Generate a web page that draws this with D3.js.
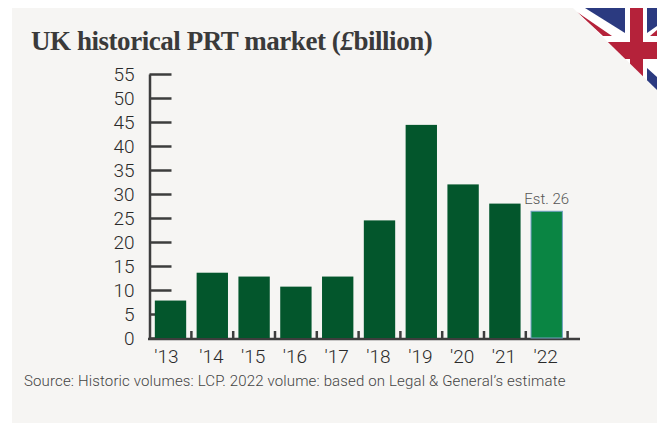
<!DOCTYPE html>
<html>
<head>
<meta charset="utf-8">
<script src="https://cdn.jsdelivr.net/npm/d3@7"></script>
<style>
  html, body { margin: 0; padding: 0; background: #fff; overflow: hidden; }
  text { font-family: Roboto, sans-serif; }
</style>
</head>
<body>
<script>
const WIDTH = 657;
const HEIGHT = 423;

// Datos
const years = ["'13", "'14", "'15", "'16", "'17", "'18", "'19", "'20", "'21", "'22"];
const volumes = [7.8, 13.6, 12.8, 10.7, 12.8, 24.5, 44.4, 32, 28, 26.4];
const yTicks = [0, 5, 10, 15, 20, 25, 30, 35, 40, 45, 50, 55];
const estimateLabel = "Est. 26";
const titleParts = ["UK historical PRT market (", "£", "billion)"];
const source = "Source: Historic volumes: LCP. 2022 volume: based on Legal & General’s estimate";

const svg = d3.select("body")
  .append("svg")
  .attr("width", WIDTH)
  .attr("height", HEIGHT)
  .style("display", "block");

// Panel de fondo
svg.append("rect")
  .attr("x", 12).attr("y", 8)
  .attr("width", WIDTH - 12).attr("height", HEIGHT - 8)
  .attr("fill", "#f6f5f3");

// Bandera en la esquina, recortada en triángulo
svg.append("clipPath").attr("id", "corner")
  .append("polygon").attr("points", "573,8 657,8 657,90");

const flag = svg.append("g").attr("clip-path", "url(#corner)");
const flagPoly = (points, fill) => flag.append("polygon").attr("points", points).attr("fill", fill);
flag.append("rect").attr("x", 570).attr("y", 8).attr("width", 90).attr("height", 90).attr("fill", "#fff");
flagPoly("585,8 625,8 625,33", "#2b3a80");
flagPoly("647,8 657,8 657,26 647,33", "#2b3a80");
flagPoly("647,68 657,77 657,90 647,90", "#2b3a80");
flagPoly("577,12 612,36 603,36", "#b5223a");
flagPoly("650,36 657,30 657,36", "#b5223a");
flagPoly("630,8 643,8 643,42 657,42 657,59 643,59 643,80 630,80 630,59 600,59 600,42 630,42", "#b5223a");

// Título
const titulo = svg.append("text")
  .attr("x", 31).attr("y", 50)
  .attr("font-size", 27)
  .attr("font-weight", 700)
  .attr("letter-spacing", -0.45)
  .attr("fill", "#3a3a3a")
  .style("font-family", "'Liberation Serif', serif");
titulo.selectAll("tspan")
  .data(titleParts)
  .join("tspan")
  .attr("font-style", (d, i) => i === 1 ? "italic" : "normal")
  .text(d => d);

// Escalas
const escalaX = d3.scaleBand()
  .domain(years)
  .range([149.6, 567.6])
  .paddingInner(0.25)
  .paddingOuter(0.125);

const escalaY = d3.scaleLinear()
  .domain([0, 55])
  .range([338, 74]);

// Eje Y: las marcas van hacia adentro
const ejeY = d3.axisLeft(escalaY)
  .tickValues(yTicks)
  .tickSize(-22)
  .tickPadding(15)
  .tickSizeOuter(0);

const contenedorEjeY = svg.append("g")
  .attr("transform", "translate(149.5, 0)")
  .call(ejeY);

contenedorEjeY.selectAll("line, path").attr("stroke", "#3d3d3d").attr("stroke-width", 2.5);
contenedorEjeY.selectAll("text")
  .attr("font-size", 19)
  .attr("font-weight", 300)
  .attr("fill", "#2a2a2a")
  .style("font-family", "Roboto, sans-serif");

// Eje X: etiquetas centradas en cada banda
const ejeX = d3.axisBottom(escalaX).tickSize(0).tickPadding(11);
const contenedorEjeX = svg.append("g")
  .attr("transform", "translate(0, 339)")
  .call(ejeX);

contenedorEjeX.select("path").remove();
contenedorEjeX.selectAll("text")
  .attr("font-size", 19)
  .attr("font-weight", 300)
  .attr("fill", "#2a2a2a")
  .attr("dx", (d, i) => i === 0 ? -4 : -1)
  .style("font-family", "Roboto, sans-serif");

// Línea base y marcas entre las bandas
const baseline = svg.append("g").attr("stroke", "#3d3d3d");
baseline.append("line")
  .attr("x1", 148).attr("x2", 580)
  .attr("y1", 339).attr("y2", 339)
  .attr("stroke-width", 2.5);
baseline.selectAll("line.sep")
  .data(years)
  .join("line")
  .attr("class", "sep")
  .attr("x1", d => escalaX(d) + escalaX.step() - escalaX.step() * 0.125)
  .attr("x2", d => escalaX(d) + escalaX.step() - escalaX.step() * 0.125)
  .attr("y1", 339)
  .attr("y2", 331)
  .attr("stroke-width", 2.5);

// Barras, encima de las marcas de los ejes
svg.append("g")
  .selectAll("rect")
  .data(years)
  .join("rect")
  .attr("x", d => escalaX(d))
  .attr("y", (d, i) => escalaY(volumes[i]))
  .attr("width", escalaX.bandwidth())
  .attr("height", (d, i) => escalaY(0) - escalaY(volumes[i]))
  .attr("fill", (d, i) => i === years.length - 1 ? "#0a8543" : "#03562c")
  .attr("stroke", (d, i) => i === years.length - 1 ? "#6f9fc0" : "none")
  .attr("stroke-width", 1);

// Etiqueta del estimado
svg.append("text")
  .attr("x", escalaX("'22") + escalaX.bandwidth() / 2)
  .attr("y", 204)
  .attr("text-anchor", "middle")
  .attr("font-size", 15)
  .attr("font-weight", 300)
  .attr("fill", "#555")
  .text(estimateLabel);

// Fuente
svg.append("text")
  .attr("x", 24).attr("y", 386)
  .attr("font-size", 15)
  .attr("font-weight", 300)
  .attr("letter-spacing", 0.15)
  .attr("fill", "#444")
  .text(source);
</script>
</body>
</html>
